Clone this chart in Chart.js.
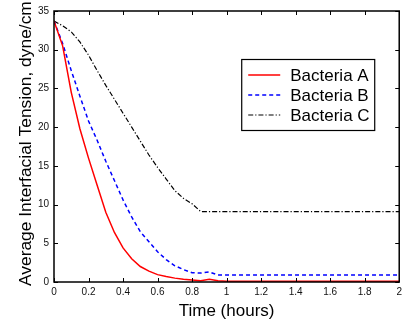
<!DOCTYPE html>
<html>
<head>
<meta charset="utf-8">
<script src="https://cdn.jsdelivr.net/npm/chart.js@4/dist/chart.umd.min.js"></script>
<style>
html,body{margin:0;padding:0;background:#fff;}
#wrap{width:406px;height:324px;}
</style>
</head>
<body>
<div id="wrap"><canvas id="c" width="406" height="324"></canvas></div>
<script>
const timeHours = [0,0.05,0.1,0.15,0.2,0.25,0.3,0.35,0.4,0.45,0.5,0.55,0.6,0.65,0.7,0.75,0.8,0.85,0.9,0.95,1.0,2.0];
const bacteriaA = [33.7,30.5,24.5,19.8,16.0,12.5,9.0,6.4,4.4,3.0,2.0,1.4,0.95,0.7,0.5,0.35,0.25,0.15,0.35,0.15,0.1,0.1];
const bacteriaB = [33.7,30.8,27.3,24.0,20.8,18.3,15.6,13.1,10.6,8.4,6.5,5.2,3.9,2.9,2.1,1.6,1.2,1.15,1.3,0.9,0.9,0.9];
const bacteriaC = [33.7,33.1,32.3,31.0,29.3,27.3,25.4,23.6,21.8,20.0,18.2,16.4,14.8,13.3,11.8,10.8,10.1,9.1,9.1,9.1,9.1,9.1];
const seriesNames = ['Bacteria A','Bacteria B','Bacteria C'];
const xTicks = [0,0.2,0.4,0.6,0.8,1,1.2,1.4,1.6,1.8,2];
const yTicks = [0,5,10,15,20,25,30,35];
const xTitle = 'Time (hours)';
const yTitle = 'Average Interfacial Tension, dyne/cm';

const FONT = '"Liberation Sans", Arial, sans-serif';
const toPts = arr => arr.map((v,i)=>({x:timeHours[i], y:v}));

const styles = [
  {borderColor:'#ff0000', borderWidth:1.5, borderDash:[]},
  {borderColor:'#0000ff', borderWidth:1.5, borderDash:[4,3]},
  {borderColor:'#000000', borderWidth:1.2, borderDash:[5,2,1.2,2]}
];
const datasets = [bacteriaA,bacteriaB,bacteriaC].map((d,i)=>Object.assign({
  label: seriesNames[i], data: toPts(d), pointRadius:0, tension:0, fill:false
}, styles[i]));

const framePlugin = {
  id:'frame',
  afterDatasetsDraw(chart){
    const {ctx, chartArea:a, scales:{x,y}} = chart;
    ctx.save();
    ctx.strokeStyle='#000'; ctx.lineWidth=1;
    ctx.beginPath();
    const L=4;
    xTicks.forEach(t=>{const px=Math.round(x.getPixelForValue(t))+0.5;
      ctx.moveTo(px,a.bottom); ctx.lineTo(px,a.bottom-L);
      ctx.moveTo(px,a.top); ctx.lineTo(px,a.top+L);});
    yTicks.forEach(t=>{const py=Math.round(y.getPixelForValue(t))+0.5;
      ctx.moveTo(a.left,py); ctx.lineTo(a.left+L,py);
      ctx.moveTo(a.right,py); ctx.lineTo(a.right-L,py);});
    ctx.stroke();
    ctx.lineWidth=1.5;
    ctx.strokeRect(a.left, a.top, a.right-a.left, a.bottom-a.top);
    // y-axis title
    ctx.save();
    ctx.translate(26, a.bottom+4);
    ctx.rotate(-Math.PI/2);
    ctx.font='17.4px '+FONT; ctx.fillStyle='#000';
    ctx.textAlign='left'; ctx.textBaseline='middle';
    ctx.fillText(yTitle, 0, 0);
    ctx.restore();
    // legend
    const bx=a.right-158, by=a.top+48, bw=133, bh=71;
    ctx.fillStyle='#fff'; ctx.fillRect(bx,by,bw,bh);
    ctx.lineWidth=1.2; ctx.strokeStyle='#000';
    ctx.strokeRect(bx+0.5,by+0.5,bw,bh);
    ctx.font='17px '+FONT; ctx.textBaseline='middle'; ctx.textAlign='left';
    chart.data.datasets.forEach((ds,i)=>{
      const ry=by+16+i*20;
      ctx.strokeStyle=ds.borderColor; ctx.lineWidth=ds.borderWidth;
      ctx.setLineDash(ds.borderDash);
      ctx.beginPath(); ctx.moveTo(bx+7,ry); ctx.lineTo(bx+39,ry); ctx.stroke();
      ctx.setLineDash([]);
      ctx.fillStyle='#000';
      ctx.fillText(ds.label, bx+49, ry+1);
    });
    ctx.restore();
  }
};

new Chart(document.getElementById('c'), {
  type:'line',
  data:{datasets},
  options:{
    responsive:false, animation:false,
    layout:{padding:{left:0,top:9,right:4,bottom:0}},
    plugins:{legend:{display:false}, tooltip:{enabled:false}},
    scales:{
      x:{type:'linear', min:0, max:2,
        afterBuildTicks(s){s.ticks=xTicks.map(v=>({value:v}));},
        ticks:{font:{size:10,family:FONT}, color:'#111', padding:4, maxRotation:0,
          callback:v=>String(+v.toFixed(1))},
        grid:{display:false, drawTicks:false}, border:{display:false},
        title:{display:true, text:xTitle, font:{size:17,family:FONT}, color:'#000', padding:{top:0,bottom:2}},
        afterFit(s){s.height=42;}
      },
      y:{type:'linear', min:0, max:35,
        afterBuildTicks(s){s.ticks=yTicks.map(v=>({value:v}));},
        ticks:{font:{size:10,family:FONT}, color:'#111', padding:5},
        grid:{display:false, drawTicks:false}, border:{display:false},
        title:{display:false},
        afterFit(s){s.width=54;}
      }
    }
  },
  plugins:[framePlugin]
});
</script>
</body>
</html>
